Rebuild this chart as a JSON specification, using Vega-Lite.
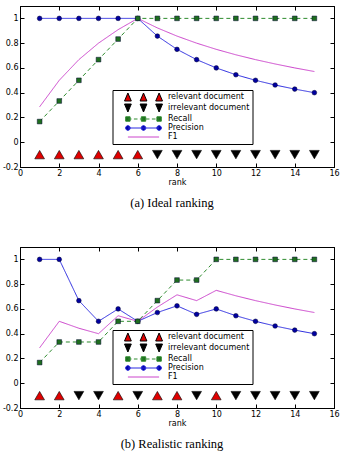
{
  "$schema": "https://vega.github.io/schema/vega-lite/v6.json",
  "padding": {"left": 1, "top": 5, "right": 5, "bottom": 0},
  "background": "white",
  "datasets": {
    "legend_items": [
      {"series":"relevant document"},{"series":"irrelevant document"},{"series":"Recall"},{"series":"Precision"},{"series":"F1"}
    ],
    "ideal_metrics": [
      {"rank":1,"series":"Precision","value":1},{"rank":2,"series":"Precision","value":1},{"rank":3,"series":"Precision","value":1},{"rank":4,"series":"Precision","value":1},{"rank":5,"series":"Precision","value":1},{"rank":6,"series":"Precision","value":1},{"rank":7,"series":"Precision","value":0.857},{"rank":8,"series":"Precision","value":0.75},{"rank":9,"series":"Precision","value":0.667},{"rank":10,"series":"Precision","value":0.6},{"rank":11,"series":"Precision","value":0.545},{"rank":12,"series":"Precision","value":0.5},{"rank":13,"series":"Precision","value":0.462},{"rank":14,"series":"Precision","value":0.429},{"rank":15,"series":"Precision","value":0.4},
      {"rank":1,"series":"Recall","value":0.167},{"rank":2,"series":"Recall","value":0.333},{"rank":3,"series":"Recall","value":0.5},{"rank":4,"series":"Recall","value":0.667},{"rank":5,"series":"Recall","value":0.833},{"rank":6,"series":"Recall","value":1},{"rank":7,"series":"Recall","value":1},{"rank":8,"series":"Recall","value":1},{"rank":9,"series":"Recall","value":1},{"rank":10,"series":"Recall","value":1},{"rank":11,"series":"Recall","value":1},{"rank":12,"series":"Recall","value":1},{"rank":13,"series":"Recall","value":1},{"rank":14,"series":"Recall","value":1},{"rank":15,"series":"Recall","value":1},
      {"rank":1,"series":"F1","value":0.286},{"rank":2,"series":"F1","value":0.5},{"rank":3,"series":"F1","value":0.667},{"rank":4,"series":"F1","value":0.8},{"rank":5,"series":"F1","value":0.909},{"rank":6,"series":"F1","value":1},{"rank":7,"series":"F1","value":0.923},{"rank":8,"series":"F1","value":0.857},{"rank":9,"series":"F1","value":0.8},{"rank":10,"series":"F1","value":0.75},{"rank":11,"series":"F1","value":0.706},{"rank":12,"series":"F1","value":0.667},{"rank":13,"series":"F1","value":0.632},{"rank":14,"series":"F1","value":0.6},{"rank":15,"series":"F1","value":0.571}
    ],
    "ideal_docs": [
      {"rank":1,"series":"relevant document"},{"rank":2,"series":"relevant document"},{"rank":3,"series":"relevant document"},{"rank":4,"series":"relevant document"},{"rank":5,"series":"relevant document"},{"rank":6,"series":"relevant document"},
      {"rank":7,"series":"irrelevant document"},{"rank":8,"series":"irrelevant document"},{"rank":9,"series":"irrelevant document"},{"rank":10,"series":"irrelevant document"},{"rank":11,"series":"irrelevant document"},{"rank":12,"series":"irrelevant document"},{"rank":13,"series":"irrelevant document"},{"rank":14,"series":"irrelevant document"},{"rank":15,"series":"irrelevant document"}
    ],
    "real_metrics": [
      {"rank":1,"series":"Precision","value":1},{"rank":2,"series":"Precision","value":1},{"rank":3,"series":"Precision","value":0.667},{"rank":4,"series":"Precision","value":0.5},{"rank":5,"series":"Precision","value":0.6},{"rank":6,"series":"Precision","value":0.5},{"rank":7,"series":"Precision","value":0.571},{"rank":8,"series":"Precision","value":0.625},{"rank":9,"series":"Precision","value":0.556},{"rank":10,"series":"Precision","value":0.6},{"rank":11,"series":"Precision","value":0.545},{"rank":12,"series":"Precision","value":0.5},{"rank":13,"series":"Precision","value":0.462},{"rank":14,"series":"Precision","value":0.429},{"rank":15,"series":"Precision","value":0.4},
      {"rank":1,"series":"Recall","value":0.167},{"rank":2,"series":"Recall","value":0.333},{"rank":3,"series":"Recall","value":0.333},{"rank":4,"series":"Recall","value":0.333},{"rank":5,"series":"Recall","value":0.5},{"rank":6,"series":"Recall","value":0.5},{"rank":7,"series":"Recall","value":0.667},{"rank":8,"series":"Recall","value":0.833},{"rank":9,"series":"Recall","value":0.833},{"rank":10,"series":"Recall","value":1},{"rank":11,"series":"Recall","value":1},{"rank":12,"series":"Recall","value":1},{"rank":13,"series":"Recall","value":1},{"rank":14,"series":"Recall","value":1},{"rank":15,"series":"Recall","value":1},
      {"rank":1,"series":"F1","value":0.286},{"rank":2,"series":"F1","value":0.5},{"rank":3,"series":"F1","value":0.444},{"rank":4,"series":"F1","value":0.4},{"rank":5,"series":"F1","value":0.545},{"rank":6,"series":"F1","value":0.5},{"rank":7,"series":"F1","value":0.615},{"rank":8,"series":"F1","value":0.714},{"rank":9,"series":"F1","value":0.667},{"rank":10,"series":"F1","value":0.75},{"rank":11,"series":"F1","value":0.706},{"rank":12,"series":"F1","value":0.667},{"rank":13,"series":"F1","value":0.632},{"rank":14,"series":"F1","value":0.6},{"rank":15,"series":"F1","value":0.571}
    ],
    "real_docs": [
      {"rank":1,"series":"relevant document"},{"rank":2,"series":"relevant document"},{"rank":3,"series":"irrelevant document"},{"rank":4,"series":"irrelevant document"},{"rank":5,"series":"relevant document"},{"rank":6,"series":"irrelevant document"},{"rank":7,"series":"relevant document"},{"rank":8,"series":"relevant document"},{"rank":9,"series":"irrelevant document"},{"rank":10,"series":"relevant document"},
      {"rank":11,"series":"irrelevant document"},{"rank":12,"series":"irrelevant document"},{"rank":13,"series":"irrelevant document"},{"rank":14,"series":"irrelevant document"},{"rank":15,"series":"irrelevant document"}
    ]
  },
  "vconcat": [
    {
      "width": 314, "height": 161,
      "title": {"text": "(a) Ideal ranking", "orient": "bottom", "anchor": "middle", "frame": "group", "dx": -5, "font": "Liberation Serif", "fontSize": 12.5, "fontWeight": "normal", "color": "black", "offset": 11},
      "resolve": {"axis": {"x": "independent", "y": "independent"}, "scale": {"shape": "independent", "fill": "independent", "stroke": "independent"}},
      "layer": [
        {
          "data": {"name": "ideal_metrics"},
          "mark": {"type": "line", "strokeWidth": 1, "opacity": 1},
          "encoding": {
            "x": {"field": "rank", "type": "quantitative", "scale": {"domain": [0, 16], "nice": false}, "axis": {"values": [0,2,4,6,8,10,12,14,16], "title": "rank", "titlePadding": 1}},
            "y": {"field": "value", "type": "quantitative", "scale": {"domain": [-0.2, 1.1], "nice": false, "zero": false}, "axis": {"values": [-0.2,0,0.2,0.4,0.6,0.8,1], "title": null, "labelExpr": "'' + round(datum.value*10)/10"}},
            "color": {"field": "series", "type": "nominal", "scale": {"domain": ["relevant document","irrelevant document","Recall","Precision","F1"], "range": ["#e00000","#000000","#2e8b2e","#2a2ae0","#cc44cc"]}, "legend": null},
            "strokeDash": {"field": "series", "type": "nominal", "scale": {"domain": ["Recall","Precision","F1"], "range": [[4,3],[1,0],[1,0]]}, "legend": null}
          }
        },
        {
          "data": {"name": "ideal_metrics"},
          "transform": [{"filter": "datum.series !== 'F1'"}],
          "mark": {"type": "point", "filled": true, "size": 22, "opacity": 1, "stroke": "#000030", "strokeWidth": 0.5},
          "encoding": {
            "x": {"field": "rank", "type": "quantitative", "axis": null},
            "y": {"field": "value", "type": "quantitative", "axis": null},
            "shape": {"field": "series", "type": "nominal", "scale": {"domain": ["Recall","Precision"], "range": ["square","circle"]}, "legend": null},
            "fill": {"field": "series", "type": "nominal", "scale": {"domain": ["Recall","Precision"], "range": ["#1e6e1e","#0000a0"]}, "legend": null}
          }
        },
        {
          "data": {"name": "ideal_docs"},
          "mark": {"type": "point", "filled": true, "size": 95, "opacity": 1, "stroke": "#000000", "strokeWidth": 0.6},
          "encoding": {
            "x": {"field": "rank", "type": "quantitative", "axis": {"orient": "top", "labels": false, "title": null, "values": [0,2,4,6,8,10,12,14,16]}},
            "y": {"datum": -0.1, "type": "quantitative", "axis": {"orient": "right", "labels": false, "title": null, "values": [-0.2,0,0.2,0.4,0.6,0.8,1]}},
            "shape": {"field": "series", "type": "nominal", "scale": {"domain": ["relevant document","irrelevant document"], "range": ["triangle-up","triangle-down"]}, "legend": null},
            "color": {"field": "series", "type": "nominal", "scale": {"domain": ["relevant document","irrelevant document","Recall","Precision","F1"], "range": ["#e00000","#000000","#2e8b2e","#2a2ae0","#cc44cc"]}, "legend": null}
          }
        },
        {
          "data": {"name": "legend_items"},
          "transform": [{"filter": "datum.series === 'none'"}],
          "mark": {"type": "point", "filled": true, "strokeWidth": 1, "opacity": 1},
          "encoding": {
            "fill": {"field": "series", "type": "nominal", "scale": {"domain": ["relevant document","irrelevant document","Recall","Precision","F1"], "range": ["#e00000","#000000","#1e6e1e","#0000a0","transparent"]},
              "legend": {"orient": "none", "legendX": 92.5, "legendY": 84, "padding": 2.5, "strokeColor": "black", "fillColor": "white", "symbolSize": 64, "symbolStrokeWidth": 1, "labelFontSize": 8, "labelFont": "DejaVu Sans", "labelColor": "black", "labelOffset": 44, "rowPadding": -6, "title": null}},
            "stroke": {"field": "series", "type": "nominal", "scale": {"domain": ["relevant document","irrelevant document","Recall","Precision","F1"], "range": ["#000000","#000000","#2e8b2e","#2a2ae0","#cc44cc"]},
              "legend": {"orient": "none", "legendX": 92.5, "legendY": 84, "padding": 2.5, "strokeColor": "black", "fillColor": "white", "symbolSize": 64, "symbolStrokeWidth": 1, "labelFontSize": 8, "labelFont": "DejaVu Sans", "labelColor": "black", "labelOffset": 44, "rowPadding": -6, "title": null}},
            "shape": {"field": "series", "type": "nominal", "scale": {"domain": ["relevant document","irrelevant document","Recall","Precision","F1"], "range": [
                "M1.25,1L2.1,-1L2.95,1ZM5.15,1L6,-1L6.85,1ZM9.05,1L9.9,-1L10.75,1Z",
                "M1.25,-1L2.1,1L2.95,-1ZM5.15,-1L6,1L6.85,-1ZM9.05,-1L9.9,1L10.75,-1Z",
                "M2.1,0H3M3.6,0H4.5M5.1,0H6M6.6,0H7.5M8.1,0H9M9.6,0H9.9M1.55,-0.55H2.65V0.55H1.55ZM5.45,-0.55H6.55V0.55H5.45ZM9.35,-0.55H10.45V0.55H9.35Z",
                "M2.1,0H9.9M2.7,0L2.52,0.42L2.1,0.6L1.68,0.42L1.5,0L1.68,-0.42L2.1,-0.6L2.52,-0.42ZM6.6,0L6.42,0.42L6,0.6L5.58,0.42L5.4,0L5.58,-0.42L6,-0.6L6.42,-0.42ZM10.5,0L10.32,0.42L9.9,0.6L9.48,0.42L9.3,0L9.48,-0.42L9.9,-0.6L10.32,-0.42Z",
                "M2.1,0H9.9"]},
              "legend": {"orient": "none", "legendX": 92.5, "legendY": 84, "padding": 2.5, "strokeColor": "black", "fillColor": "white", "symbolSize": 64, "symbolStrokeWidth": 1, "labelFontSize": 8, "labelFont": "DejaVu Sans", "labelColor": "black", "labelOffset": 44, "rowPadding": -6, "title": null}}
          }
        }
      ]
    },
    {
      "width": 314, "height": 161,
      "title": {"text": "(b) Realistic ranking", "orient": "bottom", "anchor": "middle", "frame": "group", "dx": -5, "font": "Liberation Serif", "fontSize": 12.5, "fontWeight": "normal", "color": "black", "offset": 11},
      "resolve": {"axis": {"x": "independent", "y": "independent"}, "scale": {"shape": "independent", "fill": "independent", "stroke": "independent"}},
      "layer": [
        {
          "data": {"name": "real_metrics"},
          "mark": {"type": "line", "strokeWidth": 1, "opacity": 1},
          "encoding": {
            "x": {"field": "rank", "type": "quantitative", "scale": {"domain": [0, 16], "nice": false}, "axis": {"values": [0,2,4,6,8,10,12,14,16], "title": "rank", "titlePadding": 1}},
            "y": {"field": "value", "type": "quantitative", "scale": {"domain": [-0.2, 1.1], "nice": false, "zero": false}, "axis": {"values": [-0.2,0,0.2,0.4,0.6,0.8,1], "title": null, "labelExpr": "'' + round(datum.value*10)/10"}},
            "color": {"field": "series", "type": "nominal", "scale": {"domain": ["relevant document","irrelevant document","Recall","Precision","F1"], "range": ["#e00000","#000000","#2e8b2e","#2a2ae0","#cc44cc"]}, "legend": null},
            "strokeDash": {"field": "series", "type": "nominal", "scale": {"domain": ["Recall","Precision","F1"], "range": [[4,3],[1,0],[1,0]]}, "legend": null}
          }
        },
        {
          "data": {"name": "real_metrics"},
          "transform": [{"filter": "datum.series !== 'F1'"}],
          "mark": {"type": "point", "filled": true, "size": 22, "opacity": 1, "stroke": "#000030", "strokeWidth": 0.5},
          "encoding": {
            "x": {"field": "rank", "type": "quantitative", "axis": null},
            "y": {"field": "value", "type": "quantitative", "axis": null},
            "shape": {"field": "series", "type": "nominal", "scale": {"domain": ["Recall","Precision"], "range": ["square","circle"]}, "legend": null},
            "fill": {"field": "series", "type": "nominal", "scale": {"domain": ["Recall","Precision"], "range": ["#1e6e1e","#0000a0"]}, "legend": null}
          }
        },
        {
          "data": {"name": "real_docs"},
          "mark": {"type": "point", "filled": true, "size": 95, "opacity": 1, "stroke": "#000000", "strokeWidth": 0.6},
          "encoding": {
            "x": {"field": "rank", "type": "quantitative", "axis": {"orient": "top", "labels": false, "title": null, "values": [0,2,4,6,8,10,12,14,16]}},
            "y": {"datum": -0.1, "type": "quantitative", "axis": {"orient": "right", "labels": false, "title": null, "values": [-0.2,0,0.2,0.4,0.6,0.8,1]}},
            "shape": {"field": "series", "type": "nominal", "scale": {"domain": ["relevant document","irrelevant document"], "range": ["triangle-up","triangle-down"]}, "legend": null},
            "color": {"field": "series", "type": "nominal", "scale": {"domain": ["relevant document","irrelevant document","Recall","Precision","F1"], "range": ["#e00000","#000000","#2e8b2e","#2a2ae0","#cc44cc"]}, "legend": null}
          }
        },
        {
          "data": {"name": "legend_items"},
          "transform": [{"filter": "datum.series === 'none'"}],
          "mark": {"type": "point", "filled": true, "strokeWidth": 1, "opacity": 1},
          "encoding": {
            "fill": {"field": "series", "type": "nominal", "scale": {"domain": ["relevant document","irrelevant document","Recall","Precision","F1"], "range": ["#e00000","#000000","#1e6e1e","#0000a0","transparent"]},
              "legend": {"orient": "none", "legendX": 92.5, "legendY": 83, "padding": 2.5, "strokeColor": "black", "fillColor": "white", "symbolSize": 64, "symbolStrokeWidth": 1, "labelFontSize": 8, "labelFont": "DejaVu Sans", "labelColor": "black", "labelOffset": 44, "rowPadding": -6, "title": null}},
            "stroke": {"field": "series", "type": "nominal", "scale": {"domain": ["relevant document","irrelevant document","Recall","Precision","F1"], "range": ["#000000","#000000","#2e8b2e","#2a2ae0","#cc44cc"]},
              "legend": {"orient": "none", "legendX": 92.5, "legendY": 83, "padding": 2.5, "strokeColor": "black", "fillColor": "white", "symbolSize": 64, "symbolStrokeWidth": 1, "labelFontSize": 8, "labelFont": "DejaVu Sans", "labelColor": "black", "labelOffset": 44, "rowPadding": -6, "title": null}},
            "shape": {"field": "series", "type": "nominal", "scale": {"domain": ["relevant document","irrelevant document","Recall","Precision","F1"], "range": [
                "M1.25,1L2.1,-1L2.95,1ZM5.15,1L6,-1L6.85,1ZM9.05,1L9.9,-1L10.75,1Z",
                "M1.25,-1L2.1,1L2.95,-1ZM5.15,-1L6,1L6.85,-1ZM9.05,-1L9.9,1L10.75,-1Z",
                "M2.1,0H3M3.6,0H4.5M5.1,0H6M6.6,0H7.5M8.1,0H9M9.6,0H9.9M1.55,-0.55H2.65V0.55H1.55ZM5.45,-0.55H6.55V0.55H5.45ZM9.35,-0.55H10.45V0.55H9.35Z",
                "M2.1,0H9.9M2.7,0L2.52,0.42L2.1,0.6L1.68,0.42L1.5,0L1.68,-0.42L2.1,-0.6L2.52,-0.42ZM6.6,0L6.42,0.42L6,0.6L5.58,0.42L5.4,0L5.58,-0.42L6,-0.6L6.42,-0.42ZM10.5,0L10.32,0.42L9.9,0.6L9.48,0.42L9.3,0L9.48,-0.42L9.9,-0.6L10.32,-0.42Z",
                "M2.1,0H9.9"]},
              "legend": {"orient": "none", "legendX": 92.5, "legendY": 83, "padding": 2.5, "strokeColor": "black", "fillColor": "white", "symbolSize": 64, "symbolStrokeWidth": 1, "labelFontSize": 8, "labelFont": "DejaVu Sans", "labelColor": "black", "labelOffset": 44, "rowPadding": -6, "title": null}}
          }
        }
      ]
    }
  ],
  "spacing": 36,
  "resolve": {
    "scale": {"color": "independent", "x": "independent", "y": "independent", "shape": "independent", "fill": "independent", "stroke": "independent", "strokeDash": "independent"},
    "legend": {"color": "independent", "fill": "independent", "stroke": "independent", "shape": "independent"}
  },
  "config": {
    "view": {"stroke": "black", "strokeWidth": 1},
    "axis": {"domainColor": "black", "tickColor": "black", "labelColor": "black", "labelFont": "DejaVu Sans", "labelFontSize": 8, "titleFont": "DejaVu Sans", "titleFontSize": 8, "titleFontWeight": "normal", "titleColor": "black", "grid": false, "tickSize": -4, "labelPadding": 6, "labelFlush": false, "domainWidth": 1, "minExtent": 0}
  }
}
